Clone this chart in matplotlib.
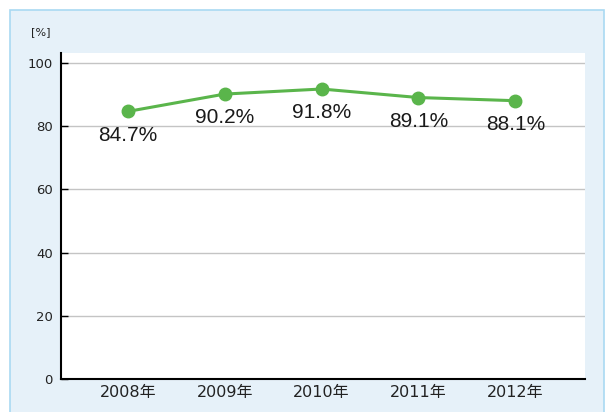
import matplotlib.pyplot as plt
from matplotlib.patches import Rectangle

# data
years = ['2008年', '2009年', '2010年', '2011年', '2012年']
rates = [84.7, 90.2, 91.8, 89.1, 88.1]
y_ticks = [0, 20, 40, 60, 80, 100]

plt.rcParams['font.family'] = ['DejaVu Sans', 'Noto Sans CJK JP']

W, H = 606, 412
fig = plt.figure(figsize=(W / 100, H / 100), dpi=100)
fig.patch.set_facecolor('white')

# light blue panel behind the chart
fig.patches.append(Rectangle((10 / W, -0.05), (W - 12) / W, 1.05 - 10 / H,
                             transform=fig.transFigure, facecolor='#e6f1f9',
                             edgecolor='#a9d9f2', lw=1.2, zorder=-10))

ax = fig.add_axes([61 / W, 1 - 379 / H, (585 - 61) / W, (379 - 53) / H])
ax.set_zorder(1)
ax.set_facecolor('white')

x = list(range(len(years)))
ax.plot(x, rates, color='#5ab54b', lw=2.2, marker='o', markersize=9, zorder=3)
for xi, v in zip(x, rates):
    ax.annotate(f'{v:.1f}%', (xi, v), xytext=(0, -17), textcoords='offset points',
                ha='center', va='center', fontsize=15, family='Liberation Sans',
                color='#1a1a1a')

ax.set_xlim(-0.69, 4.72)
ax.set_ylim(0, 103.2)
ax.set_yticks(y_ticks)
ax.set_yticklabels([str(t) for t in y_ticks], fontsize=9.5, color='#222222')
ax.set_xticks(x)
ax.set_xticklabels(years, fontsize=11.5, color='#222222')
ax.tick_params(axis='x', length=0, pad=4)
ax.tick_params(axis='y', direction='in', length=5, width=1, pad=6)
ax.yaxis.grid(True, color='#c4c4c4', lw=1)
ax.set_axisbelow(True)

for s in ['top', 'right']:
    ax.spines[s].set_visible(False)
ax.spines['left'].set_linewidth(1.5)
ax.spines['bottom'].set_linewidth(1.5)

fig.text(31 / W, 1 - 32 / H, '[%]', fontsize=8, va='center', ha='left', color='#222222')

fig.savefig('out.png', dpi=100)
